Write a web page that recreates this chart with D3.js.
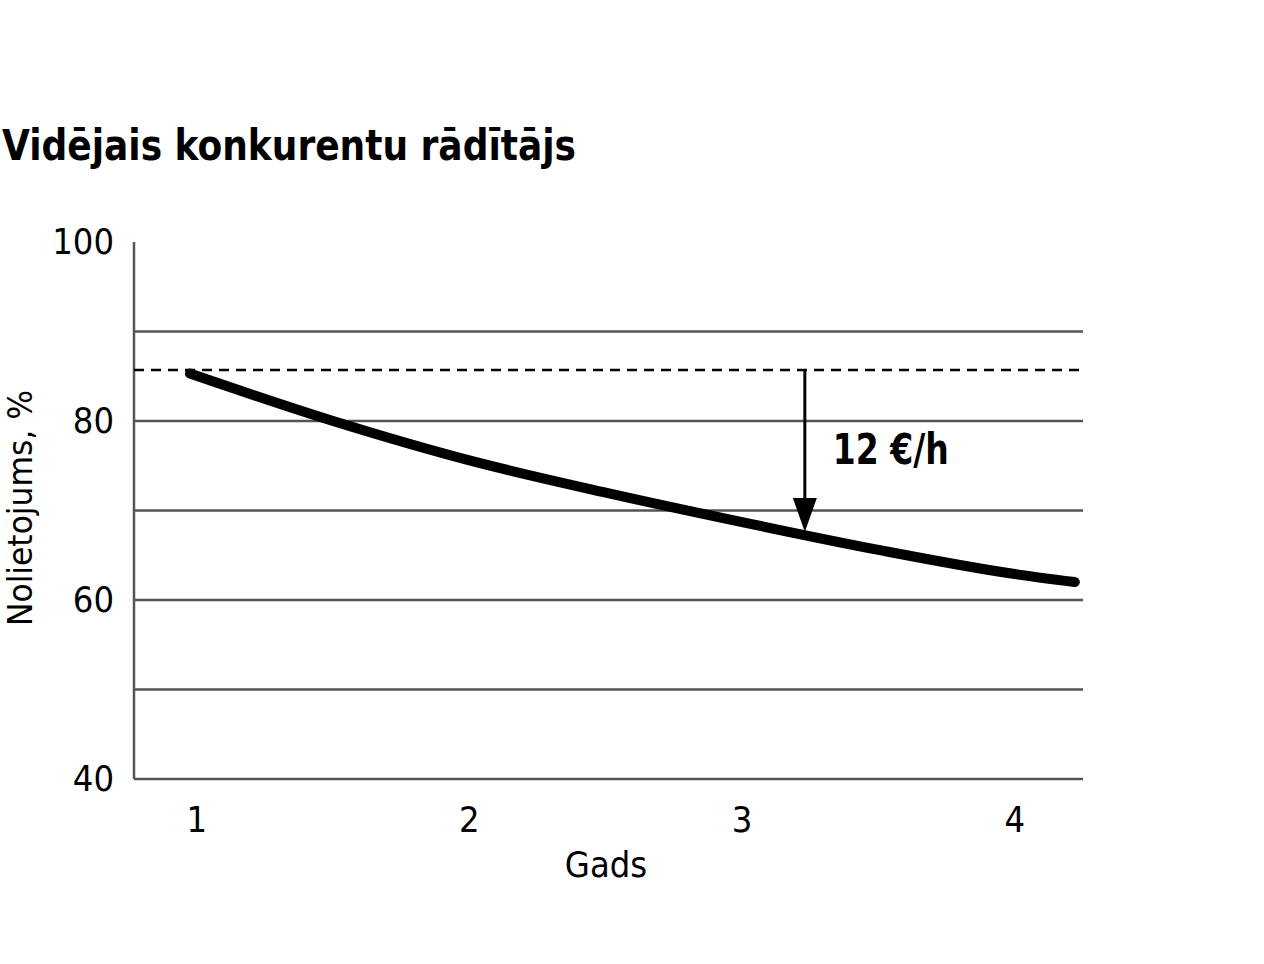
<!DOCTYPE html>
<html><head><meta charset="utf-8">
<script src="https://cdn.jsdelivr.net/npm/d3@7"></script>
<style>body{margin:0;background:#fff}text{font-family:"DejaVu Sans Condensed","Liberation Sans Narrow",sans-serif}</style>
</head><body>
<script>
const width = 1264, height = 964;
const title = 'Vidējais konkurentu rādītājs';
const years = [0.975, 1.5, 2, 2.5, 3, 3.5, 4, 4.22];
const usage = [85.3, 80.0, 75.6, 72.0, 68.7, 65.6, 62.9, 62.0];
const xTicks = [1, 2, 3, 4];
const yTicks = [40, 60, 80, 100];
const yGrid = [50, 60, 70, 80, 90];
const refLevel = 85.7;
const arrowYear = 3.23, arrowEnd = 67.6;
const arrowLabel = '12 €/h';

const x = d3.scaleLinear().domain([0.77, 4.25]).range([134, 1083]);
const y = d3.scaleLinear().domain([40, 100]).range([779, 242]);

const svg = d3.select('body').append('svg').attr('width', width).attr('height', height);

svg.append('text').attr('x', 2).attr('y', 160).attr('font-size', 42).attr('font-weight', 'bold')
    .attr('textLength', 574).attr('lengthAdjust', 'spacingAndGlyphs').text(title);

svg.append('g').selectAll('line').data(yGrid).enter().append('line')
    .attr('x1', 134).attr('x2', 1083).attr('y1', d => y(d)).attr('y2', d => y(d))
    .attr('stroke', '#555').attr('stroke-width', 2.5);
svg.append('line').attr('x1', 134).attr('x2', 1083).attr('y1', y(40)).attr('y2', y(40)).attr('stroke', '#555').attr('stroke-width', 2.5);
svg.append('line').attr('x1', 134).attr('x2', 134).attr('y1', y(100)).attr('y2', y(40)).attr('stroke', '#555').attr('stroke-width', 2.5);

svg.append('g').selectAll('text').data(yTicks).enter().append('text')
    .attr('x', 114).attr('y', d => y(d) + 12).attr('text-anchor', 'end').attr('font-size', 36).text(d => d);
svg.append('g').selectAll('text').data(xTicks).enter().append('text')
    .attr('x', d => x(d)).attr('y', 832).attr('text-anchor', 'middle').attr('font-size', 36).text(d => d);

svg.append('text').attr('x', 606).attr('y', 877).attr('text-anchor', 'middle').attr('font-size', 36).text('Gads');
svg.append('text').attr('transform', 'translate(32,508) rotate(-90)').attr('text-anchor', 'middle').attr('font-size', 34)
    .attr('textLength', 236).attr('lengthAdjust', 'spacingAndGlyphs').text('Nolietojums, %');

svg.append('line').attr('x1', 134).attr('x2', 1083).attr('y1', y(refLevel)).attr('y2', y(refLevel))
    .attr('stroke', '#000').attr('stroke-width', 2.5).attr('stroke-dasharray', '10,7');

const line = d3.line().x((d, i) => x(years[i])).y(d => y(d)).curve(d3.curveMonotoneX);
svg.append('path').attr('d', line(usage)).attr('fill', 'none').attr('stroke', '#000')
    .attr('stroke-width', 10).attr('stroke-linecap', 'round');

const ax = x(arrowYear), ay0 = y(refLevel), ay1 = y(arrowEnd);
svg.append('line').attr('x1', ax).attr('x2', ax).attr('y1', ay0).attr('y2', ay1 - 30).attr('stroke', '#000').attr('stroke-width', 3);
svg.append('path').attr('d', `M${ax - 12},${ay1 - 34}L${ax + 12},${ay1 - 34}L${ax},${ay1}Z`).attr('fill', '#000');
svg.append('text').attr('x', ax + 28).attr('y', 464).attr('font-size', 42).attr('font-weight', 'bold')
    .attr('textLength', 116).attr('lengthAdjust', 'spacingAndGlyphs').text(arrowLabel);
</script>
</body></html>
